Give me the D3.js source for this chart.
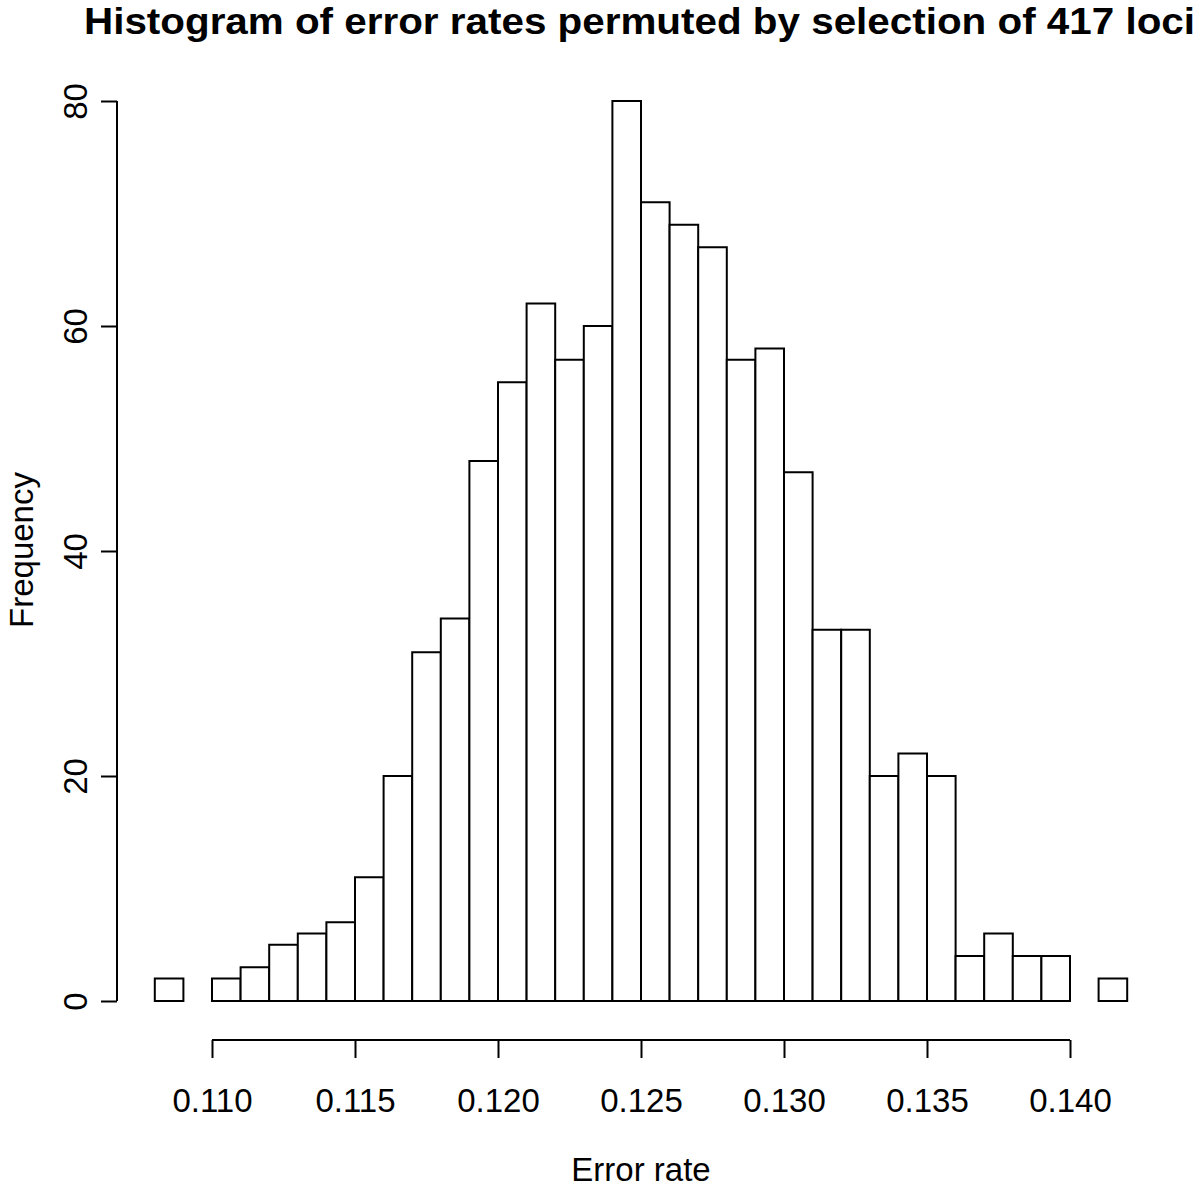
<!DOCTYPE html>
<html>
<head>
<meta charset="utf-8">
<style>
  body { margin: 0; background: #fff; }
  svg text { font-family: "Liberation Sans", Arial, Helvetica, sans-serif; fill: #000; }
</style>
</head>
<body>
<script src="https://d3js.org/d3.v7.min.js"></script>
<script>
var width = 1200, height = 1189;

// histogram bins, width 0.001, starting at 0.108
var binStarts = [0.108, 0.109, 0.110, 0.111, 0.112, 0.113, 0.114, 0.115, 0.116, 0.117,
                 0.118, 0.119, 0.120, 0.121, 0.122, 0.123, 0.124, 0.125, 0.126, 0.127,
                 0.128, 0.129, 0.130, 0.131, 0.132, 0.133, 0.134, 0.135, 0.136, 0.137,
                 0.138, 0.139, 0.140, 0.141];
var counts = [2, 0, 2, 3, 5, 6, 7, 11, 20, 31,
              34, 48, 55, 62, 57, 60, 80, 71, 69, 67,
              57, 58, 47, 33, 33, 20, 22, 20, 4, 6,
              4, 4, 0, 2];
var binWidth = 0.001;
var xTicks = [0.110, 0.115, 0.120, 0.125, 0.130, 0.135, 0.140];
var yTicks = [0, 20, 40, 60, 80];

var svg = d3.select("body").append("svg")
    .attr("width", width)
    .attr("height", height);

// 0.110 -> 212px, 0.140 -> 1070px
var x = d3.scaleLinear().domain([0.110, 0.140]).range([212, 1070]);
var y = d3.scaleLinear().domain([0, 80]).range([1001, 101]);

svg.append("g")
    .selectAll("rect")
    .data(counts)
    .enter().append("rect")
    .attr("x", function(d, i) { return x(binStarts[i]); })
    .attr("y", function(d) { return y(d); })
    .attr("width", function(d, i) { return x(binStarts[i] + binWidth) - x(binStarts[i]); })
    .attr("height", function(d) { return y(0) - y(d); })
    .attr("fill", "#fff")
    .attr("stroke", "#000")
    .attr("stroke-width", 2);

// x axis (R style, offset below plot)
var xAxis = svg.append("g")
    .attr("transform", "translate(0,1040)")
    .call(d3.axisBottom(x).tickValues(xTicks).tickSize(18)
        .tickFormat(d3.format(".3f")));
xAxis.select(".domain").attr("stroke-width", 2).attr("d", "M" + x(0.110) + ",0H" + x(0.140));
xAxis.selectAll(".tick line").attr("stroke-width", 2);
xAxis.selectAll(".tick text")
    .attr("font-size", 33)
    .attr("font-family", null)
    .attr("y", 72)
    .attr("dy", null);

// y axis
var yAxis = svg.append("g")
    .attr("transform", "translate(117,0)")
    .call(d3.axisLeft(y).tickValues(yTicks).tickSize(16));
yAxis.select(".domain").attr("stroke-width", 2).attr("d", "M0," + y(0) + "V" + y(80));
yAxis.selectAll(".tick line").attr("stroke-width", 2);
yAxis.selectAll(".tick text")
    .attr("font-size", 33)
    .attr("font-family", null)
    .attr("x", null).attr("dy", null)
    .attr("text-anchor", "middle")
    .attr("transform", "translate(-30,0) rotate(-90)");

// title and axis labels
svg.append("text")
    .attr("x", 84)
    .attr("y", 34)
    .attr("font-size", 37)
    .attr("font-weight", "bold")
    .attr("textLength", 1111)
    .attr("lengthAdjust", "spacingAndGlyphs")
    .text("Histogram of error rates permuted by selection of 417 loci");

svg.append("text")
    .attr("x", 641)
    .attr("y", 1181)
    .attr("text-anchor", "middle")
    .attr("font-size", 33)
    .text("Error rate");

svg.append("text")
    .attr("transform", "translate(33,550) rotate(-90)")
    .attr("text-anchor", "middle")
    .attr("font-size", 33)
    .text("Frequency");
</script>
</body>
</html>
